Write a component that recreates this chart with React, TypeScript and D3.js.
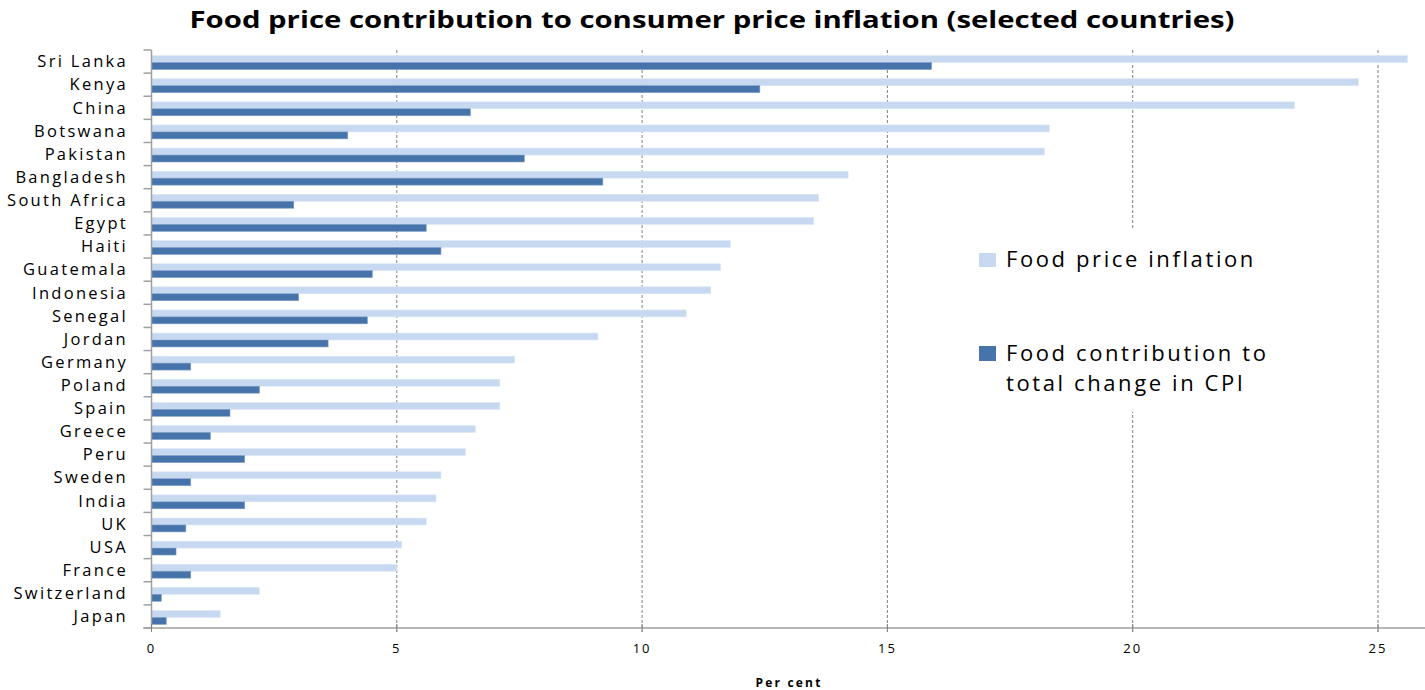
import React from "react";
import * as d3 from "d3";

const countries = [
  "Sri Lanka", "Kenya", "China", "Botswana", "Pakistan", "Bangladesh", "South Africa",
  "Egypt", "Haiti", "Guatemala", "Indonesia", "Senegal", "Jordan", "Germany", "Poland",
  "Spain", "Greece", "Peru", "Sweden", "India", "UK", "USA", "France", "Switzerland", "Japan",
];
const foodPriceInflation = [
  25.6, 24.6, 23.3, 18.3, 18.2, 14.2, 13.6, 13.5, 11.8, 11.6, 11.4, 10.9, 9.1, 7.4, 7.1,
  7.1, 6.6, 6.4, 5.9, 5.8, 5.6, 5.1, 5.0, 2.2, 1.4,
];
const foodContribution = [
  15.9, 12.4, 6.5, 4.0, 7.6, 9.2, 2.9, 5.6, 5.9, 4.5, 3.0, 4.4, 3.6, 0.8, 2.2,
  1.6, 1.2, 1.9, 0.8, 1.9, 0.7, 0.5, 0.8, 0.2, 0.3,
];
const xTicks = [0, 5, 10, 15, 20, 25];
const seriesNames = ["Food price inflation", "Food contribution to", "total change in CPI"];

const LIGHT = "#c6d9f1";
const DARK = "#4674aa";

export default function App() {
  const W = 1425, H = 690;
  const left = 151.5, top = 50, bottom = 628;
  const x = d3.scaleLinear().domain([0, 26]).range([left, left + 26 * 49.06]);
  const y = d3.scaleBand<string>().domain(countries).range([top, bottom]).padding(0);
  const bw = y.bandwidth();
  const barH = bw * 0.3;
  const font = "'Open Sans', 'DejaVu Sans', sans-serif";

  return (
    <svg width={W} height={H} style={{ position: "absolute", left: 0, top: 0, background: "#fff" }}>
      <rect width={W} height={H} fill="#fff" />
      <text x={712} y={28} textAnchor="middle" fontFamily={font} fontWeight={700} fontSize={23}
        textLength={1045} lengthAdjust="spacingAndGlyphs" fill="#000">
        Food price contribution to consumer price inflation (selected countries)
      </text>

      {/* gridlines */}
      {xTicks.filter((t) => t > 0).map((t) => (
        <line key={"g" + t} x1={x(t)} x2={x(t)} y1={top} y2={bottom + 4}
          stroke="#808080" strokeWidth={1} strokeDasharray="3,2" />
      ))}

      {/* bars */}
      {countries.map((c, i) => {
        const yc = (y(c) as number) + bw / 2 + 1;
        return (
          <g key={c}>
            <rect x={x(0)} y={yc - barH} width={x(foodPriceInflation[i]) - x(0)} height={barH}
              fill={LIGHT} stroke="#dce7f5" strokeWidth={0.6} />
            <rect x={x(0)} y={yc} width={x(foodContribution[i]) - x(0)} height={barH}
              fill={DARK} stroke="#7a9cc6" strokeWidth={0.6} />
          </g>
        );
      })}

      {/* y axis */}
      <line x1={left} x2={left} y1={top} y2={bottom} stroke="#a0a0a0" strokeWidth={1.5} />
      {d3.range(countries.length + 1).map((k) => {
        const yy = top + k * bw;
        return <line key={"t" + k} x1={left - 8} x2={left} y1={yy} y2={yy} stroke="#a0a0a0" strokeWidth={1.5} />;
      })}
      {countries.map((c) => (
        <text key={"l" + c} x={128} y={(y(c) as number) + bw / 2} dy="0.35em" textAnchor="end"
          fontFamily={font} fontSize={16.5} letterSpacing={2.3} fill="#000">
          {c}
        </text>
      ))}

      {/* x axis */}
      <line x1={left - 8} x2={W} y1={bottom} y2={bottom} stroke="#a0a0a0" strokeWidth={1.5} />
      {xTicks.map((t) => (
        <g key={"x" + t}>
          <line x1={x(t)} x2={x(t)} y1={bottom - 4} y2={bottom + 4} stroke="#808080" strokeWidth={1} />
          <text x={x(t)} y={653} textAnchor="middle" fontFamily={font} fontSize={13}
            letterSpacing={2} fill="#000">
            {t}
          </text>
        </g>
      ))}
      <text x={789} y={687} textAnchor="middle" fontFamily={font} fontWeight={700} fontSize={12}
        letterSpacing={2.2} fill="#000">
        Per cent
      </text>

      {/* legend */}
      <rect x={965} y={228} width={330} height={184} fill="#fff" />
      <rect x={979} y={253} width={17} height={14} fill={LIGHT} />
      <text x={1006} y={267} fontFamily={font} fontSize={22} letterSpacing={2.6} fill="#000">
        {seriesNames[0]}
      </text>
      <rect x={979} y={346} width={17} height={15} fill={DARK} />
      <text x={1006} y={361} fontFamily={font} fontSize={22} letterSpacing={2.6} fill="#000">
        {seriesNames[1]}
      </text>
      <text x={1006} y={391} fontFamily={font} fontSize={22} letterSpacing={2.6} fill="#000">
        {seriesNames[2]}
      </text>
    </svg>
  );
}
